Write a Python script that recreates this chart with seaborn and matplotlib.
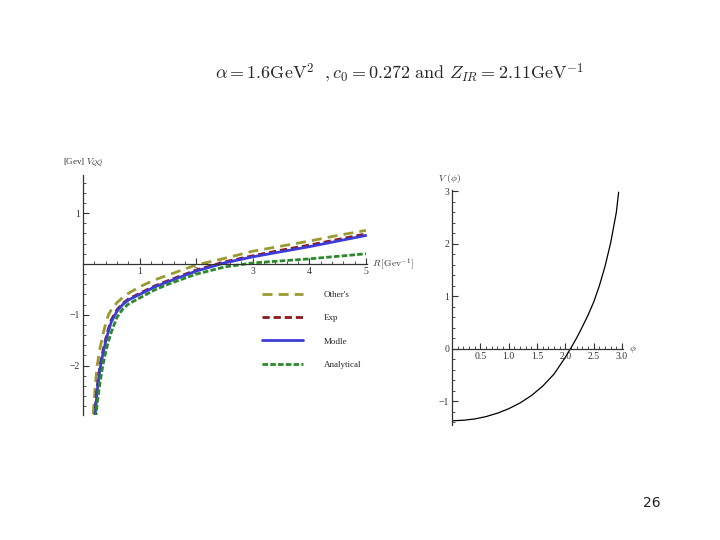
import matplotlib
matplotlib.use("Agg")
import matplotlib.pyplot as plt
from matplotlib.lines import Line2D
from matplotlib.ticker import MultipleLocator, FixedLocator
import seaborn as sns

sns.set_theme(style="white")
plt.rcParams.update({"font.family": ["Liberation Serif", "DejaVu Serif"],
                     "mathtext.fontset": "cm", "axes.linewidth": 0.9})

# left panel: static potential V_QQ(R)
R = [0.18, 0.22, 0.25, 0.3, 0.35, 0.4, 0.45, 0.5, 0.6, 0.7, 0.8, 1.0, 1.25, 1.5, 2.0, 2.5, 3.0, 3.5, 4.0, 4.5, 5.0]
v_others = [-2.95, -2.35, -2.0, -1.66, -1.4, -1.17, -1.0, -0.9, -0.76, -0.66, -0.58, -0.45, -0.32, -0.22, -0.02, 0.11, 0.25, 0.35, 0.45, 0.56, 0.66]
v_exp = [-3.5, -2.8, -2.42, -2.0, -1.72, -1.48, -1.27, -1.1, -0.9, -0.78, -0.69, -0.58, -0.44, -0.33, -0.12, 0.04, 0.16, 0.27, 0.37, 0.48, 0.59]
v_modle = [-3.7, -2.9, -2.5, -2.06, -1.78, -1.53, -1.32, -1.14, -0.93, -0.8, -0.71, -0.6, -0.46, -0.35, -0.14, 0.02, 0.14, 0.24, 0.34, 0.45, 0.56]
v_analytical = [-4.1, -3.1, -2.75, -2.33, -2.0, -1.74, -1.52, -1.34, -1.05, -0.89, -0.79, -0.67, -0.52, -0.4, -0.2, -0.06, 0.02, 0.06, 0.1, 0.15, 0.2]
labels = ["Other's", "Exp", "Modle", "Analytical"]

# right panel: V(phi)
phi = [0, 0.2, 0.4, 0.6, 0.8, 1.0, 1.2, 1.4, 1.6, 1.8, 2.0, 2.1, 2.2, 2.3, 2.4, 2.5, 2.6, 2.7, 2.8, 2.9, 2.94]
v_phi = [-1.37, -1.36, -1.335, -1.29, -1.225, -1.14, -1.03, -0.89, -0.71, -0.48, -0.16, 0.02, 0.21, 0.42, 0.64, 0.89, 1.2, 1.57, 2.02, 2.6, 2.98]

colors = ["#9a9a30", "#8b1a1a", "#3c3cd8", "#2a8a2a"]
styles = [(0, (3.6, 2.2)), (0, (2.6, 1.4)), "-", (0, (2.0, 0.8))]

fig = plt.figure(figsize=(7.2, 5.4), dpi=100)
fig.patch.set_facecolor("white")

fig.text(0.555, 0.865, r"$\alpha = 1.6\mathrm{GeV}^2\ \ ,c_0 = 0.272\ \mathrm{and}\ Z_{IR} = 2.11\mathrm{GeV}^{-1}$",
         ha="center", va="center", fontsize=13)


def mathematica_axes(ax):
    ax.set_facecolor("white")
    ax.spines["top"].set_visible(False)
    ax.spines["right"].set_visible(False)
    ax.spines["left"].set_position(("data", 0))
    ax.spines["bottom"].set_position(("data", 0))
    for s in ["left", "bottom"]:
        ax.spines[s].set_color("#333333")
    ax.tick_params(which="both", bottom=True, left=True, top=False, right=False)
    ax.tick_params(which="major", direction="in", length=4, width=0.8, labelsize=7, colors="#333333", pad=2)
    ax.tick_params(which="minor", direction="in", length=2, width=0.6, colors="#333333")
    ax.grid(False)


# left
ax1 = fig.add_axes([0.1153, 0.2315, 0.3945, 0.4445])
for vals, c, ls, lab in zip([v_others, v_exp, v_modle, v_analytical], colors, styles, labels):
    sns.lineplot(x=R, y=vals, ax=ax1, color=c, linestyle=ls, linewidth=2.0, label=lab, legend=False)
ax1.set_xlim(0, 5.02)
ax1.set_ylim(-2.97, 1.75)
mathematica_axes(ax1)
ax1.xaxis.set_major_locator(FixedLocator([1, 2, 3, 4, 5]))
ax1.xaxis.set_minor_locator(MultipleLocator(0.2))
ax1.yaxis.set_major_locator(FixedLocator([-2, -1, 1]))
ax1.yaxis.set_minor_locator(MultipleLocator(0.2))
ax1.set_yticklabels(["\u22122", "\u22121", "1"])
ax1.text(-0.35, 1.95, r"[Gev] $V_{Q\bar{Q}}$", fontsize=6.5, color="#333333", ha="left")
ax1.text(5.1, 0.0, r"$R\,[\mathrm{Gev}^{-1}]$", fontsize=7, color="#333333", ha="left", va="center")

handles = [Line2D([], [], color=c, linestyle=ls, linewidth=2.0) for c, ls in zip(colors, styles)]
leg = ax1.legend(handles, labels, loc="upper left", bbox_to_anchor=(0.6, 0.551), frameon=False,
                 fontsize=6.5, handlelength=4.6, handletextpad=2.3, labelspacing=1.65)

# right
ax2 = fig.add_axes([0.628, 0.213, 0.2375, 0.435])
sns.lineplot(x=phi, y=v_phi, ax=ax2, color="black", linewidth=0.9)
ax2.set_xlim(0, 3.02)
ax2.set_ylim(-1.45, 3.02)
mathematica_axes(ax2)
ax2.xaxis.set_major_locator(FixedLocator([0.5, 1.0, 1.5, 2.0, 2.5, 3.0]))
ax2.set_xticklabels(["0.5", "1.0", "1.5", "2.0", "2.5", "3.0"])
ax2.xaxis.set_minor_locator(MultipleLocator(0.1))
ax2.yaxis.set_major_locator(FixedLocator([-1, 0, 1, 2, 3]))
ax2.set_yticklabels(["\u22121", "0", "1", "2", "3"])
ax2.yaxis.set_minor_locator(MultipleLocator(0.2))
ax2.text(-0.25, 3.2, r"$V\ (\phi)$", fontsize=7, color="#333333")
ax2.text(3.12, 0.0, r"$\phi$", fontsize=7, color="#333333", va="center")

fig.text(0.905, 0.062, "26", fontsize=10, family="DejaVu Sans", color="#222222", ha="center")

plt.savefig("out.png", dpi=100, facecolor="white")
plt.close()
